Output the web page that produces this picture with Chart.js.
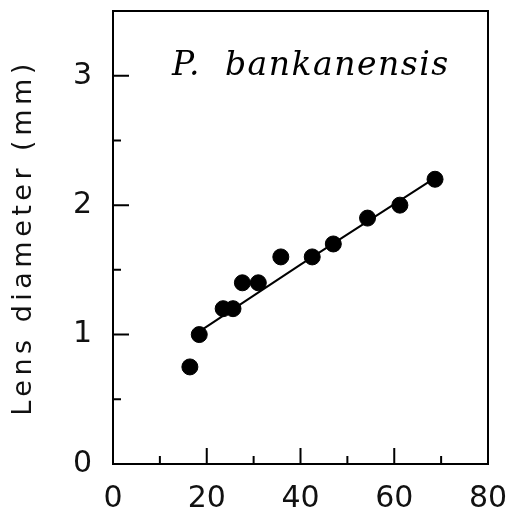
<!DOCTYPE html>
<html>
<head>
<meta charset="utf-8">
<script src="https://cdn.jsdelivr.net/npm/chart.js@4.4.1/dist/chart.umd.min.js"></script>
<style>
  html, body { margin: 0; padding: 0; background: #fff; }
  #wrap { width: 511px; height: 520px; }
</style>
</head>
<body>
<div id="wrap"><canvas id="lensChart"></canvas></div>
<script>
// body length (x) vs lens diameter (mm)
const bodyLength = [16.4, 18.4, 23.5, 25.6, 27.6, 31.0, 35.8, 42.5, 47.0, 54.3, 61.2, 68.7];
const lensDiameter = [0.75, 1.0, 1.2, 1.2, 1.4, 1.4, 1.6, 1.6, 1.7, 1.9, 2.0, 2.2];

// fitted line
const fitX = [17.0, 40.0, 68.7];
const fitY = [0.99, 1.54, 2.21];

const xTickLabels = [0, 20, 40, 60, 80];
const yTickLabels = [0, 1, 2, 3];
const speciesLabel = 'P.  bankanensis';

const tickFont = { family: '"DejaVu Sans", sans-serif', size: 30 };

// inward ticks, frame and species label
const framePlugin = {
    id: 'frame',
    beforeDraw(chart) {
        const y = chart.scales.y;
        if (!y._spaced) {
            const orig = y.drawTitle;
            y.drawTitle = function () {
                this.ctx.save();
                this.ctx.letterSpacing = '4.5px';
                orig.call(this);
                this.ctx.restore();
            };
            y._spaced = true;
        }
    },
    afterDraw(chart) {
        const { ctx, chartArea: a, scales } = chart;
        ctx.save();
        ctx.strokeStyle = '#000';
        ctx.lineWidth = 2;

        ctx.beginPath();
        ctx.moveTo(a.left, a.top);
        ctx.lineTo(a.right, a.top);
        ctx.lineTo(a.right, a.bottom);
        ctx.stroke();

        ctx.beginPath();
        scales.x.ticks.forEach(t => {
            const px = scales.x.getPixelForValue(t.value);
            const len = xTickLabels.includes(t.value) ? 16 : 8;
            ctx.moveTo(px, a.bottom);
            ctx.lineTo(px, a.bottom - len);
        });
        scales.y.ticks.forEach(t => {
            const py = scales.y.getPixelForValue(t.value);
            const len = yTickLabels.includes(t.value) ? 16 : 8;
            ctx.moveTo(a.left, py);
            ctx.lineTo(a.left + len, py);
        });
        ctx.stroke();

        ctx.fillStyle = '#000';
        ctx.font = 'italic 33px "DejaVu Serif", serif';
        ctx.letterSpacing = '1.5px';
        ctx.textBaseline = 'alphabetic';
        ctx.textAlign = 'left';
        ctx.fillText(speciesLabel, a.left + 59, a.top + 64);
        ctx.restore();
    }
};

new Chart(document.getElementById('lensChart'), {
    type: 'scatter',
    data: {
        datasets: [{
            data: bodyLength.map((x, i) => ({ x: x, y: lensDiameter[i] })),
            backgroundColor: '#000',
            borderColor: '#000',
            pointRadius: 8,
            pointHoverRadius: 8
        }, {
            type: 'line',
            data: fitX.map((x, i) => ({ x: x, y: fitY[i] })),
            borderColor: '#000',
            borderWidth: 2,
            pointRadius: 0,
            fill: false
        }]
    },
    options: {
        responsive: true,
        maintainAspectRatio: false,
        animation: false,
        layout: { padding: { left: 0, top: 11, right: 23, bottom: 0 } },
        plugins: {
            legend: { display: false },
            tooltip: { enabled: false }
        },
        scales: {
            x: {
                type: 'linear',
                min: 0,
                max: 80,
                grid: { display: false, drawTicks: false },
                border: { display: true, color: '#000', width: 2 },
                ticks: {
                    stepSize: 10,
                    autoSkip: false,
                    maxRotation: 0,
                    padding: 17,
                    color: '#111',
                    font: tickFont,
                    callback: v => xTickLabels.includes(v) ? v : ''
                },
                afterFit: s => {
                    s.height = 56;
                    s.paddingLeft = 0;
                    s.paddingRight = 0;
                }
            },
            y: {
                min: 0,
                max: 3.5,
                grid: { display: false, drawTicks: false },
                border: { display: true, color: '#000', width: 2 },
                ticks: {
                    stepSize: 0.5,
                    autoSkip: false,
                    padding: 21,
                    color: '#111',
                    font: tickFont,
                    callback: v => yTickLabels.includes(v) ? v : ''
                },
                title: {
                    display: true,
                    text: 'Lens diameter (mm)',
                    color: '#111',
                    font: { family: '"DejaVu Sans", sans-serif', size: 27 },
                    padding: { top: 8, bottom: 0 }
                },
                afterFit: s => {
                    s.width = 113;
                    s.paddingTop = 0;
                    s.paddingBottom = 0;
                }
            }
        }
    },
    plugins: [framePlugin]
});
</script>
</body>
</html>
